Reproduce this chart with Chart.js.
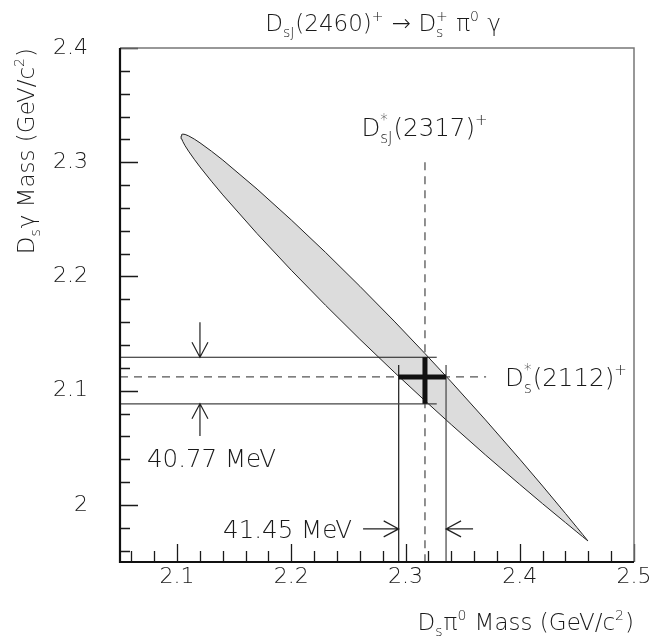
<!DOCTYPE html>
<html>
<head>
<meta charset="utf-8">
<script src="https://cdn.jsdelivr.net/npm/chart.js@4/dist/chart.umd.min.js"></script>
<style>
  html, body { margin: 0; padding: 0; background: #fff; }
  #wrap { width: 655px; height: 643px; position: relative; }
</style>
</head>
<body>
<div id="wrap"><canvas id="c" width="655" height="643"></canvas></div>
<script>
// Kinematic boundary of D_sJ(2460)+ -> D_s+ pi0 gamma in the (M(Ds pi0), M(Ds gamma)) plane
const massDsPi0    = [2.1035, 2.104, 2.105, 2.107, 2.11, 2.115, 2.12, 2.13, 2.14, 2.17, 2.20, 2.23, 2.26, 2.29, 2.317, 2.34, 2.37, 2.40, 2.42, 2.44, 2.45, 2.455, 2.4596];
const upperDsGamma = [2.3229, 2.3243, 2.3246, 2.3243, 2.3231, 2.3203, 2.3170, 2.3097, 2.3019, 2.2765, 2.2494, 2.2210, 2.1914, 2.1609, 2.1325, 2.1077, 2.0744, 2.0400, 2.0165, 1.9925, 1.9803, 1.9742, 1.9685];
const lowerDsGamma = [2.3229, 2.3205, 2.3181, 2.3144, 2.3097, 2.3026, 2.2959, 2.2834, 2.2714, 2.2375, 2.2054, 2.1747, 2.1450, 2.1163, 2.0912, 2.0703, 2.0437, 2.0179, 2.0010, 1.9845, 1.9763, 1.9722, 1.9685];

// Axis ticks
const xTicks      = [2.1, 2.2, 2.3, 2.4, 2.5];
const xTickLabels = ['2.1', '2.2', '2.3', '2.4', '2.5'];
const yTicks      = [2.0, 2.1, 2.2, 2.3, 2.4];
const yTickLabels = ['2', '2.1', '2.2', '2.3', '2.4'];

// Reference masses (GeV/c^2)
const massDsj2317 = 2.317;
const massDsStar2112 = 2.112;
// Band widths at the crossing point: 41.45 MeV in Ds pi0, 40.77 MeV in Ds gamma
const bandDsPi0   = [2.2940, 2.33545];
const bandDsGamma = [2.0885, 2.12927];

const X_MIN = 2.05, X_MAX = 2.5, Y_MIN = 1.95, Y_MAX = 2.4;
const FONT_FAMILY = "'DejaVu Sans', 'Liberation Sans', sans-serif";
const FONT_WEIGHT = '200';
const INK = '#1a1a1a';

function fontStr(size) { return FONT_WEIGHT + ' ' + size + 'px ' + FONT_FAMILY; }

// closed outline: upper edge left->right, lower edge right->left
const boundary = [];
massDsPi0.forEach((m, i) => boundary.push({ x: m, y: upperDsGamma[i] }));
for (let i = massDsPi0.length - 1; i >= 0; i--) boundary.push({ x: massDsPi0[i], y: lowerDsGamma[i] });

function segment(points, opts) {
  return Object.assign({
    data: points, showLine: true, pointRadius: 0, pointHoverRadius: 0,
    borderColor: INK, borderWidth: 1.2, fill: false, tension: 0, order: 1
  }, opts || {});
}

const datasets = [
  // crossing point
  segment([{ x: bandDsPi0[0], y: massDsStar2112 }, { x: bandDsPi0[1], y: massDsStar2112 }], { borderWidth: 5, borderColor: '#111', order: 0 }),
  segment([{ x: massDsj2317, y: bandDsGamma[0] }, { x: massDsj2317, y: bandDsGamma[1] }], { borderWidth: 5, borderColor: '#111', order: 0 }),
  // band limits in Ds gamma
  segment([{ x: X_MIN, y: bandDsGamma[1] }, { x: 2.3273, y: bandDsGamma[1] }]),
  segment([{ x: X_MIN, y: bandDsGamma[0] }, { x: 2.3273, y: bandDsGamma[0] }], { borderColor: '#444' }),
  // band limits in Ds pi0
  segment([{ x: bandDsPi0[0], y: 2.1224 }, { x: bandDsPi0[0], y: Y_MIN }]),
  segment([{ x: bandDsPi0[1], y: 2.1224 }, { x: bandDsPi0[1], y: Y_MIN }], { borderColor: '#444' }),
  // reference states (dashed)
  segment([{ x: massDsj2317, y: 2.300 }, { x: massDsj2317, y: Y_MIN }], { borderDash: [8, 6], borderColor: '#555', borderWidth: 1.3 }),
  segment([{ x: X_MIN, y: massDsStar2112 }, { x: 2.3705, y: massDsStar2112 }], { borderDash: [8, 6], borderColor: '#555', borderWidth: 1.3 }),
  // allowed region
  {
    data: boundary, showLine: true, pointRadius: 0, pointHoverRadius: 0,
    borderColor: '#222', borderWidth: 1, backgroundColor: '#dcdcdc',
    fill: 'shape', tension: 0, order: 5
  }
];

function richSegments(ctx, parts, size) {
  const small = Math.round(size * 0.62);
  return parts.map(p => {
    if (typeof p === 'string') {
      ctx.font = fontStr(size);
      return { w: ctx.measureText(p).width, p };
    }
    ctx.font = fontStr(small);
    const w = Math.max(p.sub ? ctx.measureText(p.sub).width : 0, p.sup ? ctx.measureText(p.sup).width : 0);
    return { w: w + 1, p, small };
  });
}

// text with sub/superscripts; y is the baseline
function drawRich(ctx, parts, x, y, size, align) {
  const segs = richSegments(ctx, parts, size);
  const total = segs.reduce((a, s) => a + s.w, 0);
  let cx = align === 'center' ? x - total / 2 : align === 'right' ? x - total : x;
  ctx.textAlign = 'left';
  ctx.textBaseline = 'alphabetic';
  ctx.fillStyle = INK;
  for (const s of segs) {
    const p = s.p;
    if (typeof p === 'string') {
      ctx.font = fontStr(size);
      ctx.fillText(p, cx, y);
    } else {
      ctx.font = fontStr(s.small);
      if (p.sub) ctx.fillText(p.sub, cx, y + size * 0.28);
      if (p.sup) ctx.fillText(p.sup, cx, y - size * 0.45);
    }
    cx += s.w;
  }
  return total;
}

function arrow(ctx, x0, y0, x1, y1) {
  const a = Math.atan2(y1 - y0, x1 - x0);
  const L = 15, W = 8;
  ctx.beginPath();
  ctx.moveTo(x0, y0); ctx.lineTo(x1, y1);
  const bx = x1 - L * Math.cos(a), by = y1 - L * Math.sin(a);
  const nx = -Math.sin(a) * W, ny = Math.cos(a) * W;
  ctx.moveTo(bx + nx, by + ny); ctx.lineTo(x1, y1); ctx.lineTo(bx - nx, by - ny);
  ctx.stroke();
}

const framePlugin = {
  id: 'frameAndNotes',
  afterDatasetsDraw(chart) {
    const { ctx, chartArea: ca, scales: { x, y } } = chart;
    const X = v => x.getPixelForValue(v), Y = v => y.getPixelForValue(v);
    ctx.save();

    // inward tick marks, minor every 0.02
    ctx.strokeStyle = INK;
    ctx.lineWidth = 1.3;
    ctx.beginPath();
    for (let k = 0; k <= 23; k++) {
      const v = Math.round((2.06 + 0.02 * k) * 1000) / 1000;
      if (v > X_MAX + 1e-9) break;
      const major = xTicks.some(t => Math.abs(t - v) < 1e-6);
      const px = Math.round(X(v)) + 0.5;
      ctx.moveTo(px, ca.bottom); ctx.lineTo(px, ca.bottom - (major ? 18 : 11));
    }
    for (let k = 0; k <= 23; k++) {
      const v = Math.round((1.96 + 0.02 * k) * 1000) / 1000;
      if (v > Y_MAX + 1e-9) break;
      const major = yTicks.some(t => Math.abs(t - v) < 1e-6);
      const py = Math.round(Y(v)) + 0.5;
      ctx.moveTo(ca.left, py); ctx.lineTo(ca.left + (major ? 18 : 10), py);
    }
    ctx.stroke();

    // frame
    ctx.strokeStyle = '#777';
    ctx.lineWidth = 1.5;
    ctx.beginPath();
    ctx.moveTo(ca.left, ca.top); ctx.lineTo(ca.right, ca.top); ctx.lineTo(ca.right, ca.bottom);
    ctx.stroke();
    ctx.strokeStyle = '#111';
    ctx.lineWidth = 2.2;
    ctx.beginPath();
    ctx.moveTo(ca.left, ca.top); ctx.lineTo(ca.left, ca.bottom); ctx.lineTo(ca.right, ca.bottom);
    ctx.stroke();

    // width arrows
    ctx.strokeStyle = '#222';
    ctx.lineWidth = 1.2;
    arrow(ctx, X(2.12), Y(2.160), X(2.12), Y(bandDsGamma[1]));
    arrow(ctx, X(2.12), Y(2.0603), X(2.12), Y(bandDsGamma[0]));
    arrow(ctx, X(2.2628), Y(1.979), X(bandDsPi0[0]), Y(1.979));
    arrow(ctx, X(2.3591), Y(1.979), X(bandDsPi0[1]), Y(1.979));

    // labels inside the frame
    const fs = 24.5;
    drawRich(ctx, ['40.77 MeV'], X(2.0736), Y(2.041) + fs * 0.36, fs, 'left');
    drawRich(ctx, ['41.45 MeV'], X(2.2532), Y(1.979) + fs * 0.36, fs, 'right');
    drawRich(ctx, ['D', { sup: '*', sub: 'sJ' }, '(2317)', { sup: '+' }], X(massDsj2317), Y(2.323), fs, 'center');
    drawRich(ctx, ['D', { sup: '*', sub: 's' }, '(2112)', { sup: '+' }], X(2.3871), Y(massDsStar2112) + fs * 0.36, fs, 'left');

    // titles
    const ts = 23;
    drawRich(ctx, ['D', { sub: 'sJ' }, '(2460)', { sup: '+' }, ' \u2192 D', { sub: 's', sup: '+' }, ' \u03c0', { sup: '0' }, ' \u03b3'], (ca.left + ca.right) / 2 + 6, 31, ts, 'center');
    drawRich(ctx, ['D', { sub: 's' }, '\u03c0', { sup: '0' }, ' Mass (GeV/c', { sup: '2' }, ')'], ca.right, 630, ts, 'right');
    ctx.translate(34, 0);
    ctx.rotate(-Math.PI / 2);
    drawRich(ctx, ['D', { sub: 's' }, '\u03b3 Mass (GeV/c', { sup: '2' }, ')'], -ca.top, 0, ts, 'right');

    ctx.restore();
  }
};

new Chart(document.getElementById('c'), {
  type: 'scatter',
  data: { datasets },
  options: {
    responsive: false,
    animation: false,
    devicePixelRatio: 1,
    layout: { padding: { top: 48, right: 21, left: 0, bottom: 0 } },
    plugins: { legend: { display: false }, tooltip: { enabled: false }, title: { display: false } },
    scales: {
      x: {
        type: 'linear', position: 'bottom', min: X_MIN, max: X_MAX,
        grid: { display: false, drawTicks: false },
        border: { display: false },
        afterBuildTicks: s => { s.ticks = xTicks.map(v => ({ value: v })); },
        afterFit: s => { s.height = 81; },
        ticks: {
          padding: 2, color: INK, maxRotation: 0, autoSkip: false,
          font: { family: FONT_FAMILY, size: 22, weight: FONT_WEIGHT },
          callback: (v) => { const i = xTicks.findIndex(t => Math.abs(t - v) < 1e-6); return i >= 0 ? xTickLabels[i] : ''; }
        }
      },
      y: {
        type: 'linear', position: 'left', min: Y_MIN, max: Y_MAX,
        grid: { display: false, drawTicks: false },
        border: { display: false },
        afterBuildTicks: s => { s.ticks = yTicks.map(v => ({ value: v })); },
        afterFit: s => { s.width = 120; },
        ticks: {
          padding: 32, color: INK, autoSkip: false,
          font: { family: FONT_FAMILY, size: 22, weight: FONT_WEIGHT },
          callback: (v) => { const i = yTicks.findIndex(t => Math.abs(t - v) < 1e-6); return i >= 0 ? yTickLabels[i] : ''; }
        }
      }
    }
  },
  plugins: [framePlugin]
});
</script>
</body>
</html>
